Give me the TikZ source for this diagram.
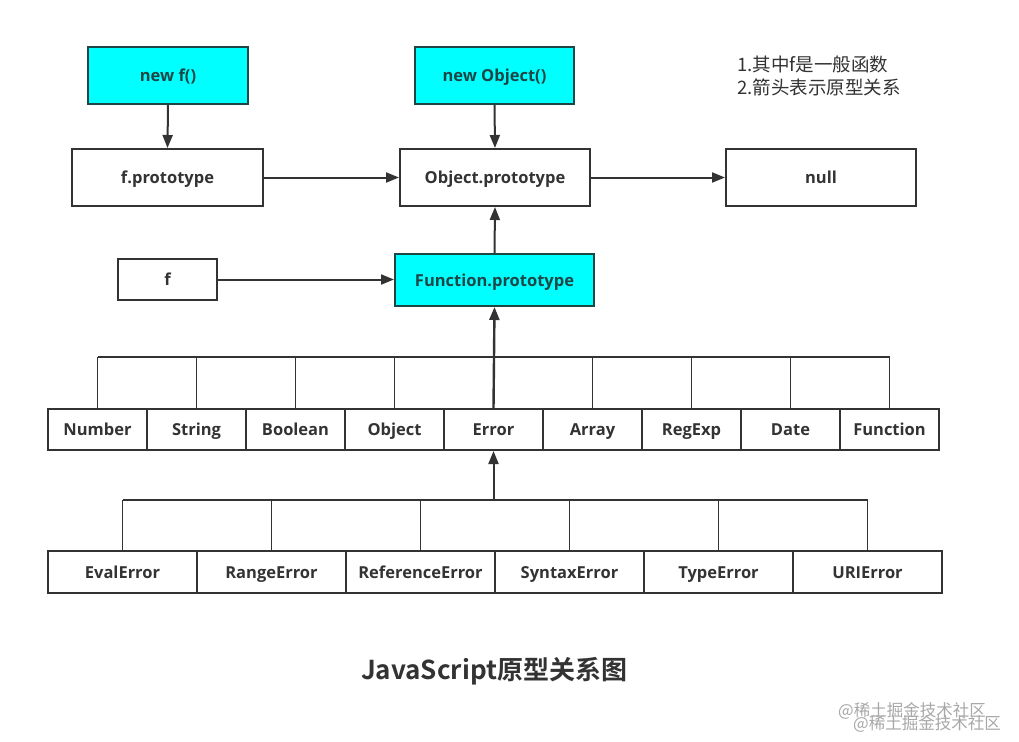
\documentclass[tikz,border=0pt]{standalone}
\usepackage{fontspec}
\setmainfont{Open Sans}
\newfontfamily\cjk{Noto Sans CJK SC}
\newfontfamily\cjkb{Noto Sans CJK SC Bold}
\usetikzlibrary{arrows.meta}
\definecolor{ln}{HTML}{333333}
\definecolor{cy}{HTML}{00FFFF}
\definecolor{cytext}{HTML}{1E4646}
\definecolor{wm}{HTML}{A8A8A8}
\begin{document}
\begin{tikzpicture}[x=1pt,y=-1pt,
  box/.style={draw=ln, line width=2pt, fill=white, inner sep=0pt,
    text height=14pt, text depth=1.5pt,
    font=\fontsize{16.5}{20}\selectfont\bfseries, text=ln},
  bigbox/.style={box, minimum height=57pt},
  cybox/.style={box, fill=cy, draw=cytext, text=cytext},
  rowbox/.style={box, minimum width=99pt, minimum height=41pt},
  errbox/.style={box, minimum width=149pt, minimum height=42pt},
  arr/.style={draw=ln, line width=2pt, -{Triangle[length=13pt,width=10pt]}},
  bus/.style={draw=ln, line width=1.8pt},
  note/.style={anchor=base west, font=\cjk\fontsize{18.5}{22}\selectfont, text=ln, inner sep=0pt},
]
\useasboundingbox (0,0) rectangle (1019,741);
\fill[white] (0,0) rectangle (1019,741);

% top row
\node[bigbox, cybox, minimum width=160pt, minimum height=57pt] (newf) at (168,75.5) {new f()};
\node[bigbox, cybox, minimum width=159pt, minimum height=57pt] (newobj) at (494.5,75.5) {new Object()};
\node[bigbox, minimum width=191pt] (fproto) at (167.5,177.5) {f.prototype};
\node[bigbox, minimum width=190pt] (objproto) at (495,177.5) {Object.prototype};
\node[bigbox, minimum width=190pt] (null) at (821,177.5) {null};

% notes
\node[note] (n1) at (737,72) {1.其中f是一般函数};
\node[note] (n2) at (737,95) {2.箭头表示原型关系};

% middle
\node[box, minimum width=99pt, minimum height=41pt] (f) at (167.5,279.5) {f};
\node[box, cybox, minimum width=199pt, minimum height=52pt] (funcproto) at (494.5,280) {Function.prototype};

% row of constructors
\foreach \name/\lab [count=\i from 0] in {num/Number,str/String,bool/Boolean,obj/Object,err/Error,arr/Array,reg/RegExp,date/Date,fun/Function}{
  \node[rowbox] (\name) at ({97.5+99*\i},429.5) {\lab};
}
% error row
\foreach \name/\lab [count=\i from 0] in {eval/EvalError,range/RangeError,ref/ReferenceError,syn/SyntaxError,type/TypeError,uri/URIError}{
  \node[errbox] (\name) at ({122.5+149*\i},572) {\lab};
}

% arrows top
\draw[arr] (newf.south) -- (fproto.north);
\draw[arr] (newobj.south) -- (objproto.north);
\draw[arr] (fproto.east) -- (objproto.west);
\draw[arr] (objproto.east) -- (null.west);
\draw[arr] (funcproto.north) -- (objproto.south);
\draw[arr] (f.east) -- (f.east -| funcproto.west);

% upper bus
\coordinate (busA) at (0,357);
\draw[bus] (num.north |- busA) -- (fun.north |- busA);
\foreach \name in {num,str,bool,obj,arr,reg,date,fun}{
  \draw[bus] (\name.north) -- (\name.north |- busA);
}
\draw[arr, line width=2.4pt] (err.north) -- (funcproto.south);

% lower bus
\coordinate (busB) at (0,500);
\draw[bus] (eval.north |- busB) -- (uri.north |- busB);
\foreach \name in {eval,range,ref,syn,type,uri}{
  \draw[bus] (\name.north) -- (\name.north |- busB);
}
\coordinate (busBmid) at (err.south |- busB);
\draw[arr] (busBmid) -- (err.south);

% title
\node[font=\cjkb\fontsize{26}{30}\selectfont, text=ln, inner sep=0pt] (title) at (494,671) {JavaScript原型关系图};

% watermark
\node[anchor=base west, font=\cjk\fontsize{16.5}{20}\selectfont, text=wm, inner sep=0pt] (wm1) at (838,716) {@稀土掘金技术社区};
\node[anchor=base west, font=\cjk\fontsize{16.5}{20}\selectfont, text=wm, inner sep=0pt] (wm2) at (853,729) {@稀土掘金技术社区};
\end{tikzpicture}
\end{document}
